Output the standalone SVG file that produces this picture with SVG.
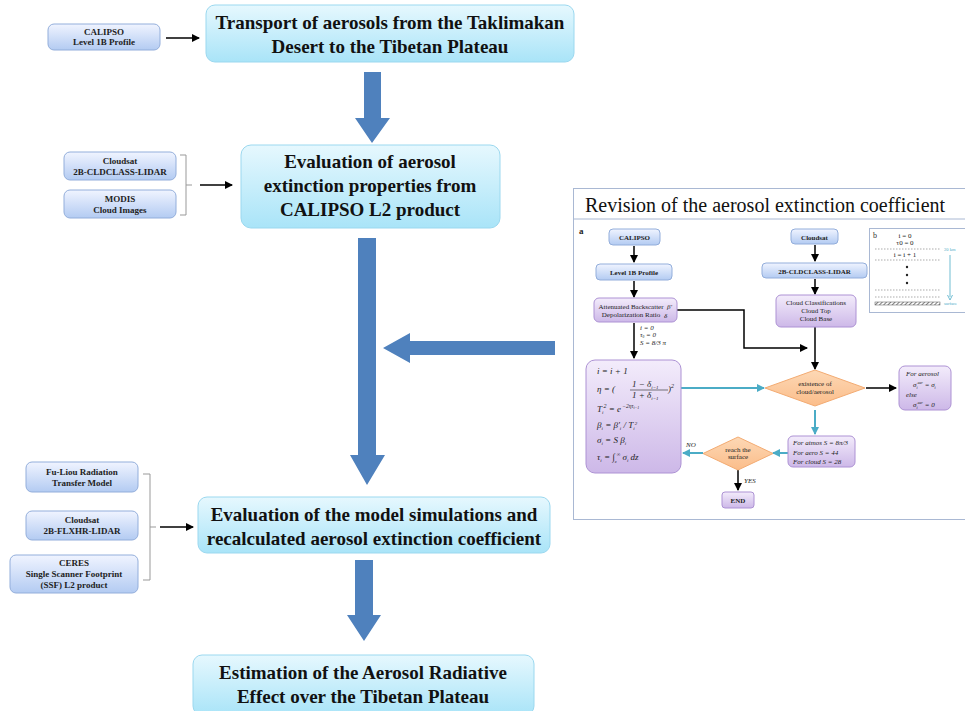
<svg xmlns="http://www.w3.org/2000/svg" width="965" height="711" viewBox="0 0 965 711">
<defs>
<linearGradient id="gMain" x1="0" y1="0" x2="0" y2="1"><stop offset="0" stop-color="#e6f8fe"/><stop offset="1" stop-color="#a9e4f8"/></linearGradient>
<linearGradient id="gSmall" x1="0" y1="0" x2="0" y2="1"><stop offset="0" stop-color="#f0f4ff"/><stop offset="1" stop-color="#b3cbf2"/></linearGradient>
<linearGradient id="gPurple" x1="0" y1="0" x2="0" y2="1"><stop offset="0" stop-color="#f3ecfb"/><stop offset="1" stop-color="#cdb8e8"/></linearGradient>
<linearGradient id="gOrange" x1="0" y1="0" x2="0" y2="1"><stop offset="0" stop-color="#fdd8b5"/><stop offset="1" stop-color="#fbbd8a"/></linearGradient>
<marker id="ab" markerWidth="8" markerHeight="8" refX="7" refY="4" orient="auto" markerUnits="userSpaceOnUse"><path d="M0,0 L8,4 L0,8 z" fill="#000"/></marker>
<marker id="at" markerWidth="8" markerHeight="8" refX="7" refY="4" orient="auto" markerUnits="userSpaceOnUse"><path d="M0,0 L8,4 L0,8 z" fill="#4bacc6"/></marker>
<pattern id="hatch" width="3" height="3" patternUnits="userSpaceOnUse" patternTransform="rotate(45)"><rect width="3" height="3" fill="#fff"/><line x1="0" y1="0" x2="0" y2="3" stroke="#555" stroke-width="1.5"/></pattern>
</defs>
<style>
.main{fill:url(#gMain);stroke:#9bd8ef;stroke-width:1}
.small{fill:url(#gSmall);stroke:#93aedb;stroke-width:1}
.purple{fill:url(#gPurple);stroke:#ad92d4;stroke-width:1}
.dia{fill:url(#gOrange);stroke:#f3ab72;stroke-width:1}
.mt{font-family:"Liberation Serif",serif;font-weight:bold;font-size:19px;fill:#111;text-anchor:middle}
.st{font-family:"Liberation Serif",serif;font-weight:bold;font-size:9px;fill:#222;text-anchor:middle}
.tt{font-family:"Liberation Serif",serif;font-size:7px;fill:#222;text-anchor:middle}
.tb{font-family:"Liberation Serif",serif;font-weight:bold;font-size:7px;fill:#222;text-anchor:middle}
.it{font-family:"Liberation Serif",serif;font-style:italic;font-size:7px;fill:#222}
.fm{font-family:"Liberation Serif",serif;font-style:italic;font-size:9px;fill:#222}
.big{fill:#4f81bd}
.blk{stroke:#000;stroke-width:1.5;fill:none}
.tea{stroke:#4bacc6;stroke-width:2;fill:none}
.brk{stroke:#999;stroke-width:1;fill:none}
.dot{stroke:#888;stroke-width:0.7;stroke-dasharray:1.5,1.5;fill:none}
</style>
<rect width="965" height="711" fill="#fff"/>

<g id="connectors">
<polygon class="big" points="364,72 381,72 381,118 390,118 372,143 355,118 364,118"/>
<polygon class="big" points="358,238 376,238 376,455 385,455 367,485 350,455 358,455"/>
<polygon class="big" points="355,560 373,560 373,615 381,615 364,641 347,615 355,615"/>
<polygon class="big" points="555,341 555,355 410,355 410,363 383,348 410,333 410,341"/>
<line class="blk" x1="166" y1="38" x2="199" y2="38" marker-end="url(#ab)"/>
<line class="blk" x1="200" y1="185" x2="232" y2="185" marker-end="url(#ab)"/>
<line class="blk" x1="160" y1="527" x2="193" y2="527" marker-end="url(#ab)"/>
<path class="brk" d="M180,155 L186,155 L186,215 L180,215 M186,185 L192,185"/>
<path class="brk" d="M143,474 L150,474 L150,580 L143,580 M150,527 L156,527"/>
</g>

<g id="calipso-l1b"><rect class="small" x="48" y="24" width="112" height="26" rx="6"/><text class="st" x="104" y="35">CALIPSO</text><text class="st" x="104" y="45">Level 1B Profile</text></g>
<g id="transport"><rect class="main" x="206" y="5" width="368" height="57" rx="9"/><text class="mt" x="390" y="29">Transport of aerosols from the Taklimakan</text><text class="mt" x="390" y="53">Desert to the Tibetan Plateau</text></g>

<g id="cloudsat-cldclass"><rect class="small" x="64" y="152" width="112" height="28" rx="6"/><text class="st" x="120" y="164">Cloudsat</text><text class="st" x="120" y="175">2B-CLDCLASS-LIDAR</text></g>
<g id="modis"><rect class="small" x="64" y="190" width="112" height="28" rx="6"/><text class="st" x="120" y="202">MODIS</text><text class="st" x="120" y="213">Cloud Images</text></g>
<g id="eval-extinction"><rect class="main" x="241" y="145" width="259" height="83" rx="10"/><text class="mt" x="370" y="168">Evaluation of aerosol</text><text class="mt" x="370" y="192">extinction properties from</text><text class="mt" x="370" y="216">CALIPSO L2 product</text></g>

<g id="fuliou"><rect class="small" x="26" y="462" width="112" height="30" rx="6"/><text class="st" x="82" y="475">Fu-Liou Radiation</text><text class="st" x="82" y="486">Transfer Model</text></g>
<g id="cloudsat-flxhr"><rect class="small" x="26" y="511" width="112" height="29" rx="6"/><text class="st" x="82" y="523">Cloudsat</text><text class="st" x="82" y="534">2B-FLXHR-LIDAR</text></g>
<g id="ceres"><rect class="small" x="10" y="555" width="128" height="38" rx="6"/><text class="st" x="74" y="566">CERES</text><text class="st" x="74" y="577">Single Scanner Footprint</text><text class="st" x="74" y="588">(SSF) L2 product</text></g>
<g id="eval-model"><rect class="main" x="198" y="497" width="352" height="56" rx="9"/><text class="mt" x="374" y="521">Evaluation of  the model simulations and</text><text class="mt" x="374" y="545">recalculated aerosol extinction coefficient</text></g>

<g id="estimation"><rect class="main" x="193" y="655" width="341" height="60" rx="9"/><text class="mt" x="363" y="679">Estimation of the Aerosol Radiative</text><text class="mt" x="363" y="703">Effect over the Tibetan Plateau</text></g>

<g id="revision-panel">
<rect x="573.5" y="188.5" width="400" height="331" fill="#fff" stroke="#a9b8d3" stroke-width="1"/>
<line x1="573.5" y1="219" x2="965" y2="219" stroke="#a9b8d3" stroke-width="1"/>
<text x="585" y="212" font-family="Liberation Serif, serif" font-size="20" fill="#111">Revision of the aerosol extinction coefficient</text>
<text x="579" y="234" font-family="Liberation Serif, serif" font-weight="bold" font-size="9" fill="#222">a</text>

<g id="panel-connectors">
<line class="blk" x1="634" y1="246" x2="634" y2="262" marker-end="url(#ab)"/>
<line class="blk" x1="634" y1="281" x2="634" y2="297" marker-end="url(#ab)"/>
<line class="blk" x1="634" y1="323" x2="634" y2="358" marker-end="url(#ab)"/>
<polyline class="blk" points="677,310 744,310 744,348 807,348" marker-end="url(#ab)"/>
<line class="blk" x1="815" y1="245" x2="815" y2="261" marker-end="url(#ab)"/>
<line class="blk" x1="815" y1="279" x2="815" y2="294" marker-end="url(#ab)"/>
<line class="blk" x1="815" y1="327" x2="815" y2="369" marker-end="url(#ab)"/>
<line class="tea" x1="681" y1="388" x2="764" y2="388" marker-end="url(#at)"/>
<line class="blk" x1="866" y1="388" x2="896" y2="388" marker-end="url(#ab)"/>
<line class="tea" x1="815" y1="410" x2="815" y2="434" marker-end="url(#at)"/>
<line class="tea" x1="788" y1="453" x2="773" y2="453" marker-end="url(#at)"/>
<line class="tea" x1="703" y1="453" x2="683" y2="453" marker-end="url(#at)"/>
<line class="blk" x1="738" y1="470" x2="738" y2="490" marker-end="url(#ab)"/>
</g>
<text class="it" x="640" y="330" font-size="5">i = 0</text>
<text class="it" x="640" y="337" font-size="5">τ<tspan font-size="3.5" dy="1">0</tspan><tspan dy="-1"> = 0</tspan></text>
<text class="it" x="640" y="345" font-size="5">S = 8/3 π</text>
<text class="it" x="686" y="447" font-size="8">NO</text>
<text class="it" x="744" y="483">YES</text>

<g id="p-calipso"><rect class="small" x="609" y="229" width="51" height="16" rx="4"/><text class="tb" x="634.5" y="240">CALIPSO</text></g>
<g id="p-level1b"><rect class="small" x="596" y="264" width="76" height="16" rx="4"/><text class="tb" x="634" y="275">Level 1B Profile</text></g>
<g id="p-attenuated"><rect class="purple" x="594" y="298" width="83" height="24" rx="5"/><text class="tt" x="631" y="309" font-size="6">Attenuated Backscatter</text><text class="tt" x="631" y="317" font-size="6">Depolarization Ratio</text><text class="it" x="667" y="309">β'</text><text class="it" x="664" y="318">δ</text></g>
<g id="p-cloudsat"><rect class="small" x="791" y="229" width="47" height="15" rx="4"/><text class="tb" x="814.5" y="240">Cloudsat</text></g>
<g id="p-cldclass"><rect class="small" x="762" y="263" width="105" height="15" rx="4"/><text class="tb" x="814.5" y="274">2B-CLDCLASS-LIDAR</text></g>
<g id="p-cloudclass"><rect class="purple" x="776" y="295" width="80" height="32" rx="5"/><text class="tt" x="816" y="305">Cloud Classifications</text><text class="tt" x="816" y="313">Cloud Top</text><text class="tt" x="816" y="321">Cloud Base</text></g>

<g id="p-formula"><rect class="purple" x="586" y="360" width="95" height="113" rx="9"/>
<text class="fm" x="597" y="374">i  =  i + 1</text>
<text class="fm" x="597" y="392">η  =  (</text>
<text class="fm" x="632" y="387" font-size="8">1 − δ<tspan font-size="5" dy="2">i−1</tspan></text>
<line x1="630" y1="390" x2="668" y2="390" stroke="#222" stroke-width="0.6"/>
<text class="fm" x="632" y="398" font-size="8">1 + δ<tspan font-size="5" dy="2">i−1</tspan></text>
<text class="fm" x="668" y="392">)<tspan font-size="6" dy="-4">2</tspan></text>
<text class="fm" x="597" y="412">T<tspan font-size="5" dy="2">i</tspan><tspan font-size="6" dy="-6">2</tspan><tspan dy="4">  =  e</tspan><tspan font-size="5.5" dy="-4"> −2ητ</tspan><tspan font-size="4" dy="1">i−1</tspan></text>
<text class="fm" x="597" y="428">β<tspan font-size="5" dy="2">i</tspan><tspan dy="-2">  =  β'</tspan><tspan font-size="5" dy="2">i</tspan><tspan dy="-2"> / T</tspan><tspan font-size="5" dy="2">i</tspan><tspan font-size="5" dy="-5">2</tspan></text>
<text class="fm" x="597" y="443">σ<tspan font-size="5" dy="2">i</tspan><tspan dy="-2">  =  S β</tspan><tspan font-size="5" dy="2">i</tspan></text>
<text class="fm" x="597" y="460">τ<tspan font-size="5" dy="2">i</tspan><tspan dy="-2">  =  ∫</tspan><tspan font-size="5" dy="3">z</tspan><tspan font-size="5" dy="-7">∞</tspan><tspan dy="4"> σ</tspan><tspan font-size="5" dy="2">i</tspan><tspan dy="-2"> dz</tspan></text>
</g>

<g id="p-existence"><polygon class="dia" points="815,370 865,388 815,406 765,388"/><text class="tt" x="815" y="386" font-size="6">existence of</text><text class="tt" x="815" y="394" font-size="6">cloud/aerosol</text></g>
<g id="p-aerosol"><rect class="purple" x="899" y="366" width="52" height="44" rx="6"/>
<text class="it" x="906" y="376">For  aerosol</text>
<text class="it" x="913" y="387">σ<tspan font-size="4" dy="2">i</tspan><tspan font-size="4" dy="-5">aer</tspan><tspan dy="3"> = σ</tspan><tspan font-size="4" dy="2">i</tspan></text>
<text class="it" x="906" y="397">else</text>
<text class="it" x="913" y="407">σ<tspan font-size="4" dy="2">i</tspan><tspan font-size="4" dy="-5">aer</tspan><tspan dy="3"> = 0</tspan></text>
</g>
<g id="p-s-values"><rect class="purple" x="788" y="436" width="67" height="31" rx="5"/>
<text class="it" x="793" y="445">For atmos  S = 8π/3</text>
<text class="it" x="793" y="455">For aero    S = 44</text>
<text class="it" x="793" y="464">For cloud  S = 28</text>
</g>
<g id="p-reach"><polygon class="dia" points="738,437 773,453.5 738,470 703,453.5"/><text class="tt" x="738" y="451.5" font-size="5">reach the</text><text class="tt" x="738" y="458.5" font-size="5">surface</text></g>
<g id="p-end"><rect class="purple" x="722" y="492" width="32" height="16" rx="3"/><text class="tb" x="738" y="503" font-size="8">END</text></g>

<g id="panel-b">
<rect x="869.5" y="228.5" width="100" height="84" fill="#fff" stroke="#a9b8d3" stroke-width="1"/>
<text x="873" y="238" font-family="Liberation Serif, serif" font-size="8" fill="#333">b</text>
<text class="tt" x="905" y="238" font-size="4">i = 0</text>
<text class="tt" x="905" y="245" font-size="4">τ0 = 0</text>
<line class="dot" x1="875" y1="249" x2="940" y2="249"/>
<text x="944" y="251" font-family="Liberation Serif, serif" font-size="4.5" fill="#4bacc6">20 km</text>
<text class="tt" x="905" y="257" font-size="4">i = i + 1</text>
<line class="dot" x1="875" y1="260" x2="940" y2="260"/>
<circle cx="907" cy="267" r="1.2" fill="#222"/>
<circle cx="907" cy="275" r="1.2" fill="#222"/>
<circle cx="907" cy="283" r="1.2" fill="#222"/>
<line class="dot" x1="875" y1="290" x2="940" y2="290"/>
<line class="dot" x1="875" y1="297" x2="940" y2="297"/>
<rect x="875" y="302" width="65" height="3" fill="url(#hatch)" stroke="#555" stroke-width="0.5"/>
<text x="944" y="305" font-family="Liberation Serif, serif" font-size="4.5" fill="#4bacc6">surface</text>
<line x1="950" y1="255" x2="950" y2="297" stroke="#4bacc6" stroke-width="0.8"/>
<path d="M947.5,295 L950,300 L952.5,295" fill="none" stroke="#4bacc6" stroke-width="0.8"/>
</g>
</g>
</svg>
